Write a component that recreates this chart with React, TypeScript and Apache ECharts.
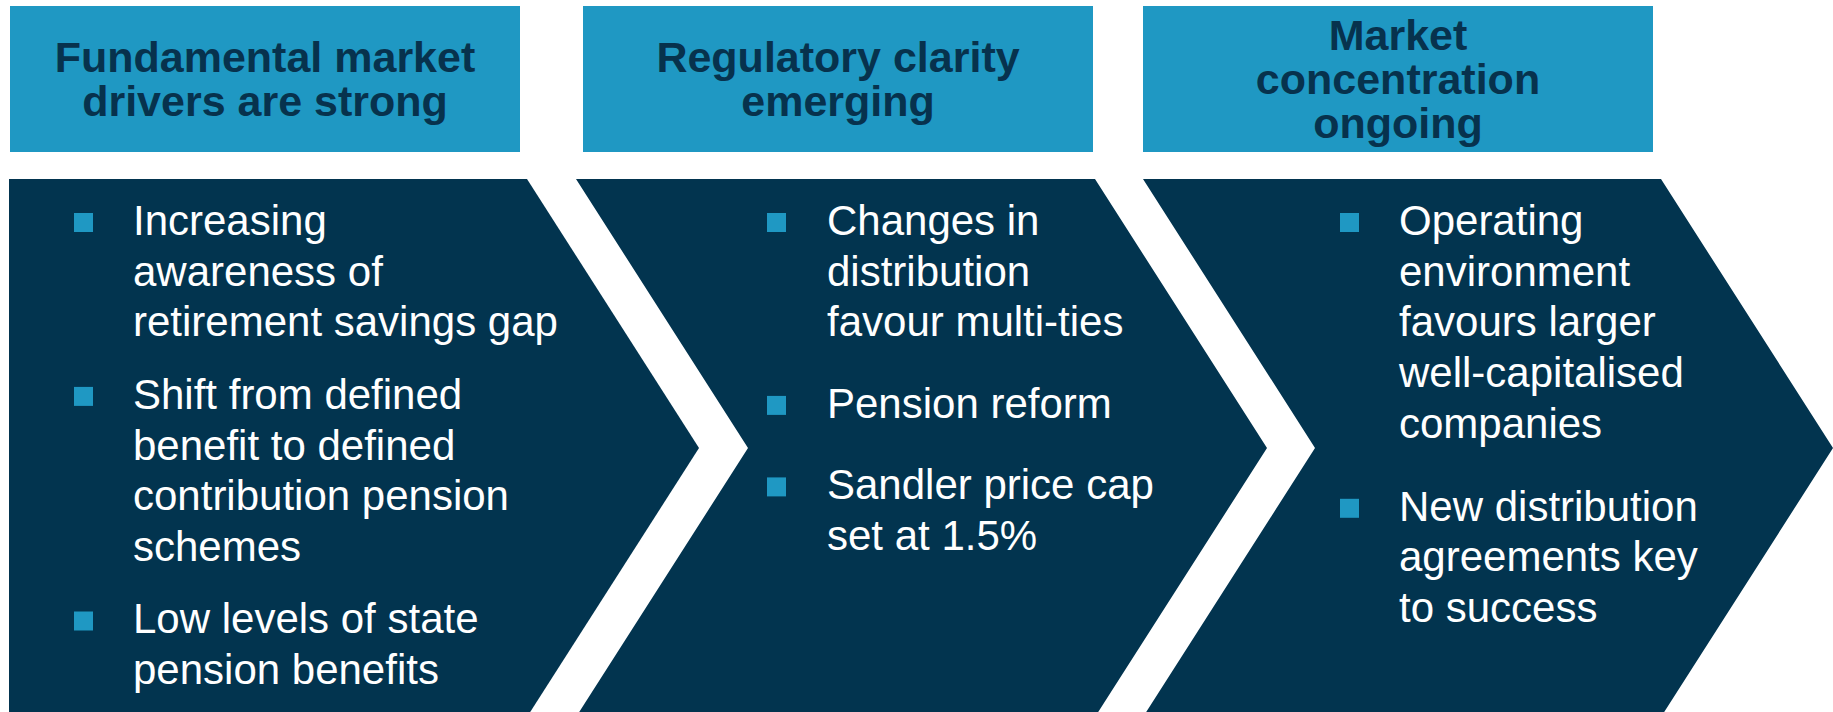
import React, { useEffect, useRef } from "react";
import * as echarts from "echarts";

// ---- content ----
const headerTitles: string[][] = [
  ["Fundamental market", "drivers are strong"],
  ["Regulatory clarity", "emerging"],
  ["Market", "concentration", "ongoing"],
];

const columnBullets: string[][][] = [
  [
    ["Increasing", "awareness of", "retirement savings gap"],
    ["Shift from defined", "benefit to defined", "contribution pension", "schemes"],
    ["Low levels of state", "pension benefits"],
  ],
  [
    ["Changes in", "distribution", "favour multi-ties"],
    ["Pension reform"],
    ["Sandler price cap", "set at 1.5%"],
  ],
  [
    ["Operating", "environment", "favours larger", "well-capitalised", "companies"],
    ["New distribution", "agreements key", "to success"],
  ],
];

// ---- layout / style ----
const W = 1833;
const H = 712;
const HEADER_BLUE = "#1f98c3";
const NAVY = "#02344f";
const HEADER_TEXT = "#07324d";
const FONT = "Liberation Sans, Arial, Helvetica, sans-serif";

const headerX = [10, 583, 1143];
const headerW = 510;
const headerY = 6;
const headerH = 146;

const chevTop = 179;
const chevMid = 448;
const chevBottom = 717;
const chevLeft = [9, 576, 1143];
const chevRightTop = [527, 1095, 1661];
const chevDepth = 172;

const bulletX = [74, 767, 1340];
const textX = [133, 827, 1399];
const firstBaseline = 235;
const lineStep = 50.7;
const paraGap = [72.5, 81.5, 83];
const bodySize = 42;
const headSize = 43;

export default function App() {
  const ref = useRef<HTMLDivElement>(null);
  useEffect(() => {
    document.body.style.margin = "0";
    if (!ref.current) return;
    const chart = echarts.init(ref.current, null, { renderer: "svg" });
    const elements: any[] = [];

    // chevrons
    for (let c = 0; c < 3; c++) {
      const l = chevLeft[c];
      const r = chevRightTop[c];
      const pts: number[][] = [
        [l, chevTop],
        [r, chevTop],
        [r + chevDepth, chevMid],
        [r, chevBottom],
        [l, chevBottom],
      ];
      if (c > 0) pts.push([l + chevDepth, chevMid]);
      elements.push({
        type: "polygon",
        shape: { points: pts },
        style: { fill: NAVY },
      });
    }

    // headers
    headerTitles.forEach((lines, c) => {
      elements.push({
        type: "rect",
        shape: { x: headerX[c], y: headerY, width: headerW, height: headerH },
        style: { fill: HEADER_BLUE },
      });
      const n = lines.length;
      lines.forEach((t, i) => {
        elements.push({
          type: "text",
          x: headerX[c] + headerW / 2,
          y: 79 + (i - (n - 1) / 2) * 44,
          style: {
            text: t,
            fill: HEADER_TEXT,
            font: `bold ${headSize}px ${FONT}`,
            align: "center",
            verticalAlign: "middle",
          },
        });
      });
    });

    // bullets
    columnBullets.forEach((paras, c) => {
      let baseline = firstBaseline;
      paras.forEach((lines, p) => {
        if (p > 0) baseline += paraGap[c];
        elements.push({
          type: "rect",
          shape: { x: bulletX[c], y: baseline - 22, width: 19, height: 19 },
          style: { fill: HEADER_BLUE },
        });
        lines.forEach((t, i) => {
          if (i > 0) baseline += lineStep;
          elements.push({
            type: "text",
            x: textX[c],
            y: baseline - 14.6,
            style: {
              text: t,
              fill: "#ffffff",
              font: `${bodySize}px ${FONT}`,
              align: "left",
              verticalAlign: "middle",
            },
          });
        });
      });
    });

    chart.setOption({
      animation: false,
      backgroundColor: "#ffffff",
      graphic: { elements },
    });
    return () => chart.dispose();
  }, []);
  return <div ref={ref} style={{ width: W, height: H }} />;
}
